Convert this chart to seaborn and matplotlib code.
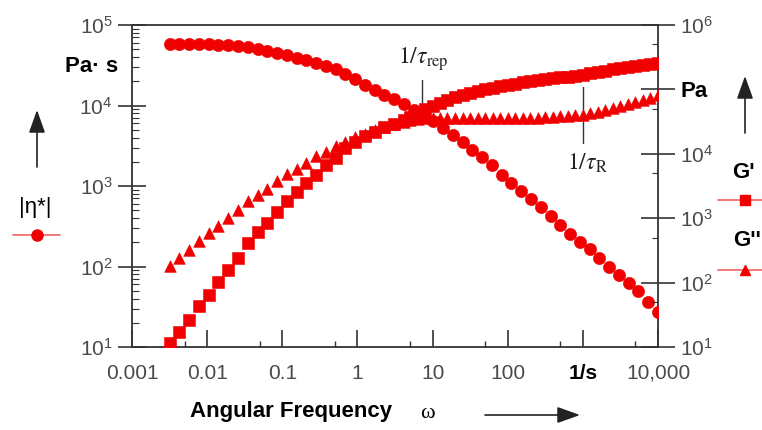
import matplotlib
matplotlib.use("Agg")
import matplotlib.pyplot as plt
import seaborn as sns
import pandas as pd
from matplotlib.lines import Line2D
from matplotlib.ticker import FixedLocator, FixedFormatter, NullFormatter

# ---------------- data ----------------
omega_eta = [0.00316, 0.00427, 0.00575, 0.00776, 0.0105, 0.0141, 0.0191, 0.0257, 0.0347, 0.0468,
             0.0631, 0.0851, 0.115, 0.155, 0.209, 0.282, 0.380, 0.513, 0.692, 0.933,
             1.26, 1.70, 2.29, 3.09, 4.17, 5.62, 7.59, 10.2, 13.8, 18.6,
             25.1, 33.9, 45.7, 61.7, 83.2, 112, 151, 204, 275, 372,
             501, 676, 912, 1230, 1660, 2240, 3020, 4070, 5500, 7410, 10000]
eta = [58900, 58900, 58900, 57500, 57500, 56200, 56200, 55000, 53700, 50100,
       47900, 44700, 42700, 38900, 36300, 33900, 30900, 28200, 24500, 21400,
       18200, 15800, 13500, 12000, 10500, 8910, 7590, 6460, 5250, 4270,
       3550, 2820, 2290, 1820, 1380, 1100, 871, 692, 550, 427,
       331, 257, 204, 166, 129, 97.7, 77.6, 61.7, 49.0, 36.3, 27.5]

omega_mod = [0.00316, 0.00427, 0.00575, 0.00776, 0.0105, 0.0141, 0.0191, 0.0257, 0.0347, 0.0468,
             0.0631, 0.0851, 0.115, 0.155, 0.209, 0.282, 0.380, 0.513, 0.692, 0.933,
             1.26, 1.70, 2.29, 3.09, 4.17,
             5.01, 6.31, 7.94, 10.0, 12.6, 15.8, 20.0, 25.1, 31.6, 39.8,
             50.1, 63.1, 79.4, 100, 126, 158, 200, 251, 316, 398,
             501, 631, 794, 1000, 1260, 1580, 2000, 2510, 3160, 3980,
             5010, 6310, 7940, 10000]
G_storage = [11.5, 17.4, 26.3, 42.7, 64.6, 102, 158, 245, 407, 617,
             832, 1260, 1820, 2570, 3470, 4680, 6760, 8510, 12300, 15500,
             18600, 21900, 26300, 29500, 33100,
             37200, 42700, 49000, 55000, 61700, 69200, 75900, 83200, 89100, 95500,
             102000, 107000, 112000, 117000, 123000, 129000, 135000, 138000, 145000, 148000,
             155000, 158000, 162000, 170000, 178000, 186000, 195000, 204000, 214000, 224000,
             229000, 240000, 251000, 257000]
G_loss = [178, 240, 324, 437, 589, 759, 1000, 1350, 1820, 2290,
          2880, 3720, 4900, 5750, 7240, 9120, 10700, 13200, 15500, 18200,
          20400, 23400, 26300, 29500, 31600,
          33100, 34700, 35500, 36300, 36300, 36300, 36000, 35900, 35800, 35700,
          35600, 35500, 35500, 35500, 35600, 35700, 35900, 36300, 37200, 37600,
          38000, 38900, 39800, 40700, 42700, 44700, 47900, 51300, 55000, 58900,
          63100, 69200, 74100, 81300]

x_ticks = [1e-3, 1e-2, 1e-1, 1, 10, 100, 1000, 1e4]
x_tick_labels = ["0.001", "0.01", "0.1", "1", "10", "100", "1/s", "10,000"]
x_minor = [5e-3, 5e-2, 5e-1, 5, 50, 500, 5000]
yl_ticks = [1e1, 1e2, 1e3, 1e4, 1e5]
yl_tick_labels = [r"$\mathregular{10^{1}}$", r"$\mathregular{10^{2}}$", r"$\mathregular{10^{3}}$",
                  r"$\mathregular{10^{4}}$", r"$\mathregular{10^{5}}$"]
yl_minor = [k * 10 ** n for n in range(1, 5) for k in range(2, 10)]
yr_ticks = [1e1, 1e2, 1e3, 1e4, 1e5, 1e6]
yr_tick_labels = [r"$\mathregular{10^{1}}$", r"$\mathregular{10^{2}}$", r"$\mathregular{10^{3}}$",
                  r"$\mathregular{10^{4}}$", "Pa", r"$\mathregular{10^{6}}$"]
yr_minor = [5e1, 5e2, 5e3, 5e4, 5e5]

tau_rep_freq = 7.3
tau_R_freq = 1000

# ---------------- style ----------------
sns.set_theme(style="white")
plt.rcParams["font.family"] = ["Liberation Sans", "DejaVu Sans"]
plt.rcParams["mathtext.fontset"] = "stix"

RED = "#f00000"
TXT = "#4a4a4a"
W, H = 762, 430


def px(x, y):
    return (x / W, 1 - y / H)


fig = plt.figure(figsize=(W / 100, H / 100), dpi=100)
fig.patch.set_facecolor("white")
ax = fig.add_axes([132 / W, (H - 347) / H, 526 / W, 322 / H])
ax2 = ax.twinx()

ax.set_xscale("log")
ax.set_yscale("log")
ax2.set_yscale("log")

df_eta = pd.DataFrame({"omega": omega_eta, "value": eta})
df_gs = pd.DataFrame({"omega": omega_mod, "value": G_storage})
df_gl = pd.DataFrame({"omega": omega_mod, "value": G_loss})

sns.scatterplot(data=df_eta, x="omega", y="value", ax=ax, marker="o", s=78,
                color=RED, edgecolor=RED, linewidth=0.4, zorder=3)
sns.scatterplot(data=df_gl, x="omega", y="value", ax=ax2, marker="^", s=70,
                color=RED, edgecolor=RED, linewidth=0.4, zorder=3)
sns.scatterplot(data=df_gs, x="omega", y="value", ax=ax2, marker="s", s=66,
                color=RED, edgecolor=RED, linewidth=0.4, zorder=4)

ax.set_xlim(1e-3, 1e4)
ax.set_ylim(10, 1e5)
ax2.set_ylim(10, 1e6)
for a in (ax, ax2):
    a.set_xlabel("")
    a.set_ylabel("")

# spines
for s in ax.spines.values():
    s.set_color("#333333")
    s.set_linewidth(1.3)
for s in ax2.spines.values():
    s.set_visible(False)

# x ticks
ax.xaxis.set_major_locator(FixedLocator(x_ticks))
ax.xaxis.set_major_formatter(FixedFormatter(x_tick_labels))
ax.xaxis.set_minor_locator(FixedLocator(x_minor))
ax.xaxis.set_minor_formatter(NullFormatter())
ax.tick_params(axis="x", which="major", bottom=True, top=False, direction="in", length=12,
               width=1.2, color="#333333", labelsize=15, labelcolor=TXT, pad=12)
ax.tick_params(axis="x", which="minor", bottom=True, top=False, direction="in", length=4,
               width=1.0, color="#333333")
for lab in ax.get_xticklabels():
    if lab.get_text() == "1/s":
        lab.set_fontweight("bold")
        lab.set_color("black")

# left y ticks
ax.yaxis.set_major_locator(FixedLocator(yl_ticks))
ax.yaxis.set_major_formatter(FixedFormatter(yl_tick_labels))
ax.yaxis.set_minor_locator(FixedLocator(yl_minor))
ax.yaxis.set_minor_formatter(NullFormatter())
ax.tick_params(axis="y", which="major", left=True, right=False, direction="inout", length=20,
               width=1.2, color="#333333", labelsize=15, labelcolor=TXT, pad=4)
ax.tick_params(axis="y", which="minor", left=True, right=False, direction="in", length=5,
               width=0.8, color="#333333")

# right y ticks
ax2.yaxis.set_major_locator(FixedLocator(yr_ticks))
ax2.yaxis.set_major_formatter(FixedFormatter(yr_tick_labels))
ax2.yaxis.set_minor_locator(FixedLocator(yr_minor))
ax2.yaxis.set_minor_formatter(NullFormatter())
ax2.tick_params(axis="y", which="major", right=True, left=False, direction="inout", length=24,
                width=1.2, color="#333333", labelsize=15, labelcolor=TXT, pad=4)
ax2.tick_params(axis="y", which="minor", right=True, left=False, direction="in", length=4,
                width=0.8, color="#333333")
for lab in ax2.get_yticklabels():
    if lab.get_text() == "Pa":
        lab.set_fontweight("bold")
        lab.set_color("black")
        lab.set_fontsize(16)

# annotation lines and labels
ax.axvline(tau_rep_freq, ymin=0.758, ymax=0.829, color="#333333", lw=1.0, zorder=5)
ax.axvline(tau_R_freq, ymin=0.634, ymax=0.807, color="#333333", lw=1.0, zorder=5)
ax.text(0.553, 0.894, r"$1/\tau_{\mathrm{rep}}$", transform=ax.transAxes, ha="center",
        va="center", fontsize=17, color="#222222", zorder=6)
ax.text(0.865, 0.571, r"$1/\tau_{\mathrm{R}}$", transform=ax.transAxes, ha="center",
        va="center", fontsize=17, color="#222222", zorder=6)

# axis unit labels and titles
fig.text(*px(92, 66), "Pa· s", ha="center", va="center", fontsize=16, fontweight="bold",
         color="black")
fig.text(*px(35, 208), "|η*|", ha="center", va="center", fontsize=16, color="black")
fig.text(*px(743, 173), "G'", ha="center", va="center", fontsize=16, fontweight="bold",
         color="black")
fig.text(*px(747, 240), "G''", ha="center", va="center", fontsize=16, fontweight="bold",
         color="black")
fig.text(*px(190, 411), "Angular Frequency", ha="left", va="center", fontsize=16,
         fontweight="bold", color="black")
fig.text(*px(427, 414), "ω", ha="center", va="center", fontsize=16, color="black",
         family=["Liberation Serif", "DejaVu Serif"])

# arrows
arrow_kw = dict(arrowstyle="-|>,head_length=0.7,head_width=0.25", color="#222222", lw=1.2,
                mutation_scale=20, shrinkA=0, shrinkB=0)
ax.annotate("", xy=px(580, 415), xytext=px(485, 415), xycoords="figure fraction",
            textcoords="figure fraction", arrowprops=arrow_kw, annotation_clip=False)
ax.annotate("", xy=px(37, 110), xytext=px(37, 167), xycoords="figure fraction",
            textcoords="figure fraction", arrowprops=arrow_kw, annotation_clip=False)
ax.annotate("", xy=px(745, 76), xytext=px(745, 133), xycoords="figure fraction",
            textcoords="figure fraction", arrowprops=arrow_kw, annotation_clip=False)

# legend keys
LEG = "#f07070"
for (x0, xm, x1, y, mk, ms) in [(13, 37, 60, 235, "o", 8), (718, 745, 762, 200, "s", 7.5),
                                (718, 745, 762, 270, "^", 7.5)]:
    xs = [x0 / W, xm / W, x1 / W]
    ys = [1 - y / H] * 3
    fig.add_artist(Line2D(xs, ys, color=LEG, lw=1.3, marker=mk, markevery=[1],
                          markersize=ms, markerfacecolor=RED, markeredgecolor=RED,
                          transform=fig.transFigure))

fig.savefig("out.png", dpi=100, facecolor="white")
